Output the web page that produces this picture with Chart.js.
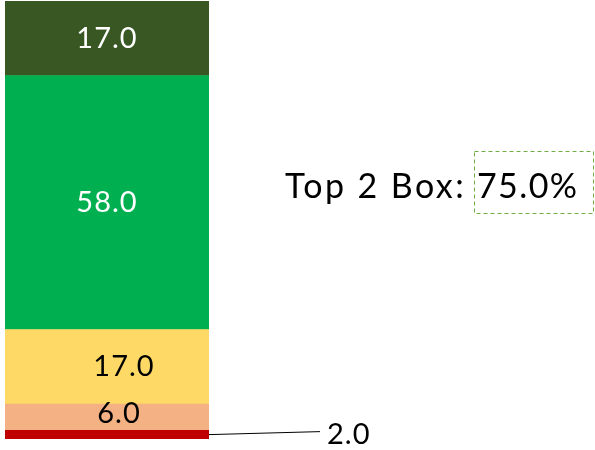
<!DOCTYPE html>
<html>
<head>
<meta charset="utf-8">
<script src="https://cdn.jsdelivr.net/npm/chart.js@4"></script>
<style>
  html, body { margin: 0; padding: 0; background: #fff; }
  #wrap { width: 595px; height: 450px; position: relative; }
</style>
</head>
<body>
<div id="wrap"><canvas id="chart"></canvas></div>
<script>
// --- Data ---
const categories = ['Score'];
const segmentNames = ['Very poor', 'Poor', 'Neutral', 'Good', 'Very good'];
const segmentValues = [2.0, 6.0, 17.0, 58.0, 17.0];
const segmentColors = ['#C00000', '#F4B183', '#FFD966', '#00B050', '#385723'];
const labelColors = ['#000000', '#000000', '#000000', '#FFFFFF', '#FFFFFF'];
const topBoxLabel = 'Top 2 Box:';
const topBoxValue = segmentValues[3] + segmentValues[4];

const FONT = 'Lato, "Open Sans", sans-serif';

// --- Labels, leader line and Top 2 Box text ---
const labelPlugin = {
    id: 'segmentLabels',
    afterDatasetsDraw(chart) {
        const ctx = chart.ctx;
        ctx.save();
        ctx.font = `29px ${FONT}`;
        ctx.letterSpacing = '1px';
        ctx.textBaseline = 'middle';
        chart.data.datasets.forEach((ds, i) => {
            const bar = chart.getDatasetMeta(i).data[0];
            const midY = (bar.y + bar.base) / 2;
            const text = ds.data[0].toFixed(1);
            ctx.fillStyle = labelColors[i];
            if (i === 0) {
                // small slice: leader line out to the right
                const right = bar.x + bar.width / 2;
                ctx.strokeStyle = '#000';
                ctx.lineWidth = 1;
                ctx.beginPath();
                ctx.moveTo(right, midY);
                ctx.lineTo(right + 111, midY - 3);
                ctx.stroke();
                ctx.textAlign = 'left';
                ctx.fillText(text, right + 118, midY);
            } else {
                const dx = (i === 1) ? 12 : (i === 2) ? 17 : 0;
                const dy = (i === 1) ? -3 : 0;
                ctx.textAlign = 'center';
                ctx.fillText(text, bar.x + dx, midY + dy);
            }
        });

        // Top 2 Box callout
        ctx.font = `34px ${FONT}`;
        ctx.letterSpacing = '2.4px';
        ctx.fillStyle = '#000';
        ctx.textAlign = 'left';
        ctx.fillText(topBoxLabel, 285, 187);
        ctx.letterSpacing = '1.4px';
        ctx.fillText(topBoxValue.toFixed(1) + '%', 477, 187);
        ctx.strokeStyle = '#70AD47';
        ctx.lineWidth = 1;
        ctx.setLineDash([4, 3]);
        ctx.strokeRect(474.5, 151.5, 119, 62);
        ctx.restore();
    }
};

new Chart(document.getElementById('chart'), {
    type: 'bar',
    data: {
        labels: categories,
        datasets: segmentValues.map((v, i) => ({
            label: segmentNames[i],
            data: [v],
            backgroundColor: segmentColors[i],
            borderWidth: 0,
            barPercentage: 1,
            categoryPercentage: 1
        }))
    },
    options: {
        responsive: true,
        maintainAspectRatio: false,
        animation: false,
        layout: { padding: { left: 5, right: 386, top: 1, bottom: 11 } },
        plugins: { legend: { display: false }, tooltip: { enabled: false } },
        scales: {
            x: { stacked: true, display: false },
            y: { stacked: true, display: false, min: 0, max: 100 }
        }
    },
    plugins: [labelPlugin]
});
</script>
</body>
</html>
